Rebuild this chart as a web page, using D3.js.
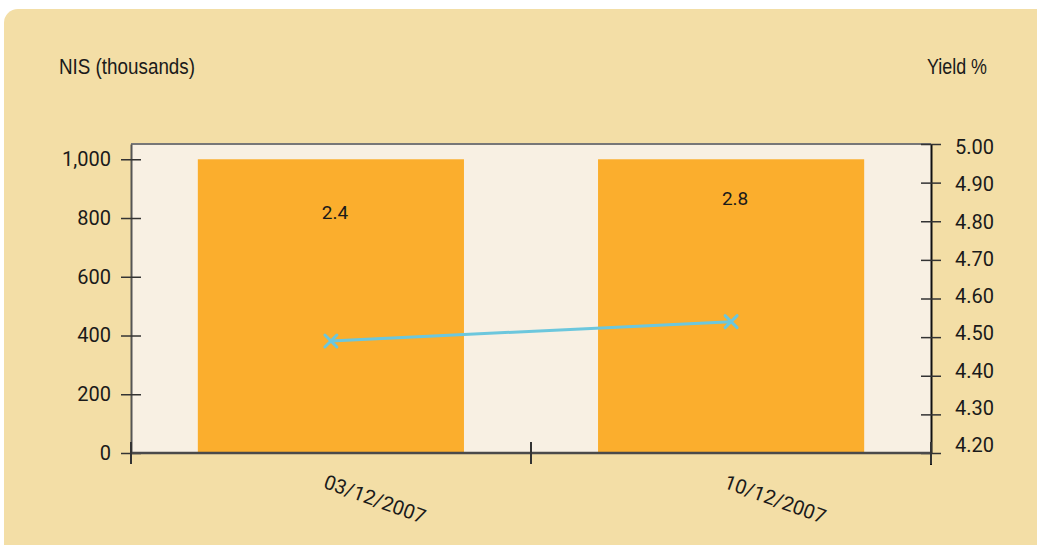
<!DOCTYPE html>
<html>
<head>
<meta charset="utf-8">
<script src="https://d3js.org/d3.v7.min.js"></script>
<style>
body { margin: 0; padding: 0; background: #ffffff; }
svg { display: block; }
text { fill: #1a1a1a; }
</style>
</head>
<body>
<svg id="chart" width="1037" height="545"></svg>
<script>
// data
var dates = ['03/12/2007', '10/12/2007'];
var amounts = [1000, 1000];          // NIS thousands (bars)
var yields = [4.49, 4.54];           // yield % (line)
var barLabels = ['2.4', '2.8'];
var barLabelAt = [818, 866];         // where the label sits, in NIS units
var leftTicks = [0, 200, 400, 600, 800, 1000];
var rightTicks = [4.2, 4.3, 4.4, 4.5, 4.6, 4.7, 4.8, 4.9, 5.0];

var margin = {top: 144, left: 131, right: 106, bottom: 92};
var width = 1037 - margin.left - margin.right,
    height = 545 - margin.top - margin.bottom;

var svg = d3.select('#chart');

// tan panel with rounded corner
svg.append('rect')
  .attr('x', 4).attr('y', 9)
  .attr('width', 1060).attr('height', 560)
  .attr('rx', 14)
  .attr('fill', '#F3DEA6');

var g = svg.append('g')
  .attr('transform', 'translate(' + margin.left + ',' + margin.top + ')');

var x = d3.scaleBand().domain(dates).range([0, width]).paddingInner(0.335).paddingOuter(0.167);
var xTick = d3.scaleLinear().domain([0, 2]).range([0, width]);
var y = d3.scaleLinear().domain([0, 1052]).range([height, 0]);
var y2 = d3.scaleLinear().domain([4.2, 5.0]).range([height, 0]);
// the right-hand labels drift a little from their ticks in the original
var y2lab = d3.scaleLinear().domain([4.2, 5.0]).range([height - 8, 3]);

g.append('rect')
  .attr('width', width).attr('height', height)
  .attr('fill', '#F8F0E3');

// top border
g.append('line')
  .attr('x1', 0).attr('x2', width).attr('y1', 0).attr('y2', 0)
  .attr('stroke', '#777').attr('stroke-width', 2);

// bars
g.selectAll('.bar')
  .data(amounts)
  .enter().append('rect')
  .attr('class', 'bar')
  .attr('x', function(d, i) { return x(dates[i]); })
  .attr('y', function(d) { return y(d); })
  .attr('width', x.bandwidth())
  .attr('height', function(d) { return height - y(d); })
  .attr('fill', '#FBAE2D');

g.selectAll('.blabel')
  .data(barLabels)
  .enter().append('text')
  .attr('class', 'blabel')
  .attr('x', function(d, i) { return x(dates[i]) + x.bandwidth() / 2 + 4; })
  .attr('y', function(d, i) { return y(barLabelAt[i]); })
  .attr('dy', '0.35em')
  .attr('text-anchor', 'middle')
  .style('font-family', 'Roboto, sans-serif')
  .style('font-size', '19px')
  .text(function(d) { return d; });

// yield line
var line = d3.line()
  .x(function(d, i) { return x(dates[i]) + x.bandwidth() / 2; })
  .y(function(d) { return y2(d); });

g.append('path')
  .datum(yields)
  .attr('d', line)
  .attr('fill', 'none')
  .attr('stroke', '#6CC7DD')
  .attr('stroke-width', 3);

g.selectAll('.mark')
  .data(yields)
  .enter().append('path')
  .attr('class', 'mark')
  .attr('transform', function(d, i) {
    return 'translate(' + (x(dates[i]) + x.bandwidth() / 2) + ',' + y2(d) + ')';
  })
  .attr('d', 'M-6,-6L6,6M-6,6L6,-6')
  .attr('stroke', '#6CC7DD')
  .attr('stroke-width', 3)
  .attr('stroke-linecap', 'round');

// left axis
var gl = g.append('g')
  .call(d3.axisLeft(y).tickValues(leftTicks).tickSize(0).tickPadding(20)
    .tickFormat(d3.format(',')));
gl.select('.domain').attr('stroke', '#555').attr('stroke-width', 2);
gl.selectAll('.tick line').attr('x1', -10).attr('x2', 10).attr('stroke', '#333').attr('stroke-width', 1.5);
gl.selectAll('text').style('font-family', 'Roboto, sans-serif').style('font-size', '20px').attr('fill', '#1a1a1a');

// right axis
var gr = g.append('g')
  .attr('transform', 'translate(' + width + ',0)')
  .call(d3.axisRight(y2).tickValues(rightTicks).tickSize(0).tickFormat(''));
gr.select('.domain').attr('stroke', '#111').attr('stroke-width', 2);
gr.selectAll('.tick line').attr('x1', -10).attr('x2', 10).attr('stroke', '#333').attr('stroke-width', 1.5);
gr.append('line').attr('y1', height).attr('y2', height + 12).attr('stroke', '#111').attr('stroke-width', 2);
gr.selectAll('.rl')
  .data(rightTicks)
  .enter().append('text')
  .attr('class', 'rl')
  .attr('x', 24)
  .attr('y', function(d) { return y2lab(d); })
  .attr('dy', '0.35em')
  .style('font-family', 'Roboto, sans-serif')
  .style('font-size', '20px')
  .text(function(d) { return d3.format('.2f')(d); });

// bottom axis
var gb = g.append('g')
  .attr('transform', 'translate(0,' + height + ')');
gb.append('line')
  .attr('x1', 0).attr('x2', width)
  .attr('stroke', '#4a4a4a').attr('stroke-width', 2.5);
gb.selectAll('.xt')
  .data([0, 1, 2])
  .enter().append('line')
  .attr('class', 'xt')
  .attr('x1', function(d) { return xTick(d); })
  .attr('x2', function(d) { return xTick(d); })
  .attr('y1', -11).attr('y2', 11)
  .attr('stroke', '#333').attr('stroke-width', 2);

gb.selectAll('.xl')
  .data(dates)
  .enter().append('text')
  .attr('class', 'xl')
  .attr('transform', function(d) {
    return 'translate(' + (x(d) + x.bandwidth() / 2 + 44) + ',46) rotate(20)';
  })
  .attr('text-anchor', 'middle')
  .attr('dy', '0.35em')
  .style('font-family', 'Roboto, sans-serif')
  .style('font-size', '20px')
  .text(function(d) { return d; });

// axis titles
svg.append('text')
  .attr('x', 59).attr('y', 74)
  .attr('textLength', 136).attr('lengthAdjust', 'spacingAndGlyphs')
  .style('font-family', '"Liberation Sans", sans-serif')
  .style('font-size', '22px')
  .text('NIS (thousands)');

svg.append('text')
  .attr('x', 927).attr('y', 74)
  .attr('textLength', 60).attr('lengthAdjust', 'spacingAndGlyphs')
  .style('font-family', '"Liberation Sans", sans-serif')
  .style('font-size', '22px')
  .text('Yield %');
</script>
</body>
</html>
